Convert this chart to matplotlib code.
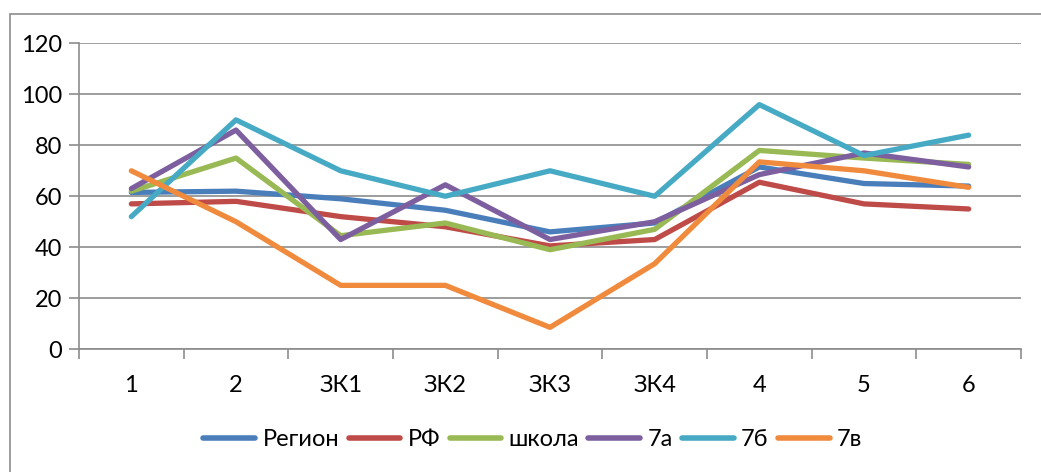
import matplotlib
matplotlib.use("Agg")
import matplotlib.pyplot as plt
from matplotlib.patches import Rectangle
from matplotlib.ticker import FixedLocator

categories = ["1", "2", "ЗК1", "ЗК2", "ЗК3", "ЗК4", "4", "5", "6"]
region = [61.5, 62, 59, 54.5, 46, 49.5, 71.5, 65, 64]
rf = [57, 58, 52, 48, 40.5, 43, 65.5, 57, 55]
school = [62, 75, 44.5, 49.5, 39, 47, 78, 75, 72.5]
cls_7a = [63, 86, 43, 64.5, 43, 50, 68.5, 77, 71.5]
cls_7b = [52, 90, 70, 60, 70, 60, 96, 76, 84]
cls_7v = [70, 50, 25, 25, 8.5, 33.5, 73.5, 70, 63.5]

series = [
    ("Регион", region, "#4A7EBB"),
    ("РФ", rf, "#BE4B48"),
    ("школа", school, "#98B954"),
    ("7а", cls_7a, "#7D5FA0"),
    ("7б", cls_7b, "#46AAC5"),
    ("7в", cls_7v, "#F08A3C"),
]
yticks = [0, 20, 40, 60, 80, 100, 120]

W, H = 1041, 472
fig = plt.figure(figsize=(W / 100, H / 100), dpi=100)
plt.rcParams['font.family'] = ['Lato', 'DejaVu Sans']

# outer chart border
fig.patches.append(Rectangle((10 / W, -0.2), 2.0, (H - 14) / H + 0.2,
                             transform=fig.transFigure, fill=False,
                             edgecolor="#8C8C8C", linewidth=1.2, zorder=0))

left, right, top, bottom = 79, 1021, 43.5, 349
ax = fig.add_axes([left / W, (H - bottom) / H, (right - left) / W, (bottom - top) / H])

x = list(range(len(categories)))
for name, vals, col in series:
    ax.plot(x, vals, color=col, linewidth=3.8, label=name,
            solid_joinstyle="round", solid_capstyle="round", zorder=3)

ax.set_xlim(-0.5, len(categories) - 0.5)
ax.set_ylim(0, 120)
ax.set_yticks(yticks)
ax.set_xticks(x)
ax.set_xticklabels(categories)
ax.xaxis.set_minor_locator(FixedLocator([i - 0.5 for i in range(len(categories) + 1)]))

ax.grid(axis="y", color="#8C8C8C", linewidth=1.2, zorder=1)
for s in ["top", "right"]:
    ax.spines[s].set_visible(False)
ax.spines["left"].set_color("#8C8C8C")
ax.spines["left"].set_linewidth(1.2)
ax.spines["bottom"].set_color("#8C8C8C")
ax.spines["bottom"].set_linewidth(1.2)

ax.tick_params(axis="y", length=7.2, width=1.2, color="#8C8C8C", pad=5,
               labelsize=17, labelcolor="black")
ax.tick_params(axis="x", which="major", length=0, pad=19, labelsize=17,
               labelcolor="black")
ax.tick_params(axis="x", which="minor", length=7.2, width=1.2, color="#8C8C8C")

leg = fig.legend(loc="center", bbox_to_anchor=(533 / W, (H - 440) / H),
                 ncol=6, frameon=False, handlelength=2.2, handletextpad=0.3,
                 columnspacing=0.4, prop={"size": 17})
for ln in leg.get_lines():
    ln.set_linewidth(4)
    ln.set_solid_capstyle("round")

fig.savefig("out.png", dpi=100)
